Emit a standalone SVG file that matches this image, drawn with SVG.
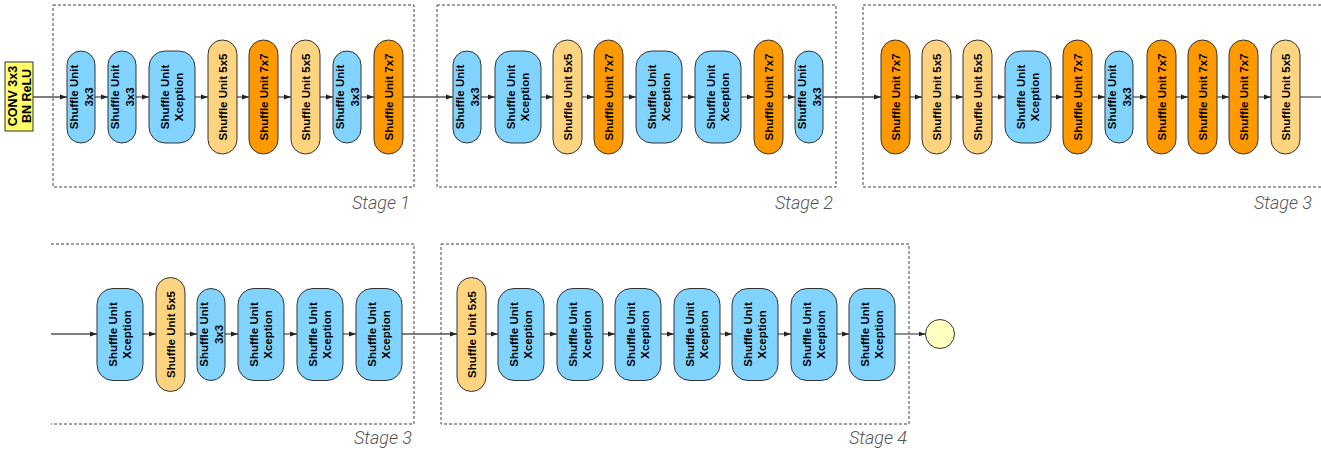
<svg xmlns="http://www.w3.org/2000/svg" width="1321" height="451" viewBox="0 0 1321 451">
<style>
.bg{fill:#fff}
.stage{fill:none;stroke:#444;stroke-width:1;stroke-dasharray:3,2}
.slabel{font-family:Roboto,"Liberation Sans",sans-serif;font-style:italic;font-weight:300;font-size:18px;fill:#555;text-anchor:end}
.b{fill:#80D4FF;stroke:#333;stroke-width:1}
.y{fill:#FFD480;stroke:#333;stroke-width:1}
.o{fill:#FF9900;stroke:#333;stroke-width:1}
.conv{fill:#FFFF66;stroke:#333;stroke-width:1}
.t{font-family:"Liberation Sans",Arial,sans-serif;font-weight:bold;font-size:11.5px;fill:#000;text-anchor:middle}
.tc{font-family:"Liberation Sans",Arial,sans-serif;font-weight:bold;font-size:12.5px;fill:#000;text-anchor:middle}
.e{stroke:#555;stroke-width:1.3;fill:none}
.ea{stroke:#555;stroke-width:1.3;fill:none;marker-end:url(#ah)}
.end{fill:#FFFFC0;stroke:#333;stroke-width:1}
</style>
<defs>
<marker id="ah" markerUnits="userSpaceOnUse" markerWidth="7" markerHeight="6" refX="7" refY="3" orient="auto">
<path d="M0,0.5 L7,3 L0,5.5 z" fill="#222"/>
</marker>
</defs>
<rect class="bg" x="0" y="0" width="1321" height="451"/>

<g id="stages">
<rect class="stage" x="53" y="5" width="361" height="182"/>
<text class="slabel" x="410" y="209">Stage 1</text>
<rect class="stage" x="437" y="5" width="399" height="182"/>
<text class="slabel" x="833" y="209">Stage 2</text>
<path class="stage" d="M1321,5 H863 V187 H1321"/>
<text class="slabel" x="1312" y="209">Stage 3</text>
<path class="stage" d="M51,244 H414 V424 H51"/>
<text class="slabel" x="412" y="444">Stage 3</text>
<rect class="stage" x="441" y="244" width="468" height="180"/>
<text class="slabel" x="907" y="444">Stage 4</text>
</g>

<g id="connectors">
<line class="ea" x1="33" y1="97" x2="67" y2="97"/>
<line class="ea" x1="95" y1="97" x2="108" y2="97"/>
<line class="ea" x1="136" y1="97" x2="149" y2="97"/>
<line class="ea" x1="195" y1="97" x2="208" y2="97"/>
<line class="ea" x1="237" y1="97" x2="249" y2="97"/>
<line class="ea" x1="278" y1="97" x2="291" y2="97"/>
<line class="ea" x1="320" y1="97" x2="333" y2="97"/>
<line class="ea" x1="361" y1="97" x2="374" y2="97"/>
<line class="ea" x1="403" y1="97" x2="453" y2="97"/>
<line class="ea" x1="481" y1="97" x2="495" y2="97"/>
<line class="ea" x1="541" y1="97" x2="553" y2="97"/>
<line class="ea" x1="582" y1="97" x2="594" y2="97"/>
<line class="ea" x1="623" y1="97" x2="636" y2="97"/>
<line class="ea" x1="682" y1="97" x2="695" y2="97"/>
<line class="ea" x1="741" y1="97" x2="754" y2="97"/>
<line class="ea" x1="783" y1="97" x2="795" y2="97"/>
<line class="ea" x1="823" y1="97" x2="881" y2="97"/>
<line class="ea" x1="910" y1="97" x2="922" y2="97"/>
<line class="ea" x1="951" y1="97" x2="963" y2="97"/>
<line class="ea" x1="992" y1="97" x2="1005" y2="97"/>
<line class="ea" x1="1051" y1="97" x2="1063" y2="97"/>
<line class="ea" x1="1092" y1="97" x2="1105" y2="97"/>
<line class="ea" x1="1133" y1="97" x2="1147" y2="97"/>
<line class="ea" x1="1176" y1="97" x2="1188" y2="97"/>
<line class="ea" x1="1217" y1="97" x2="1229" y2="97"/>
<line class="ea" x1="1258" y1="97" x2="1271" y2="97"/>
<line class="e" x1="1300" y1="97" x2="1321" y2="97"/>

<line class="ea" x1="51" y1="334" x2="97" y2="334"/>
<line class="ea" x1="143" y1="334" x2="156" y2="334"/>
<line class="ea" x1="185" y1="334" x2="197" y2="334"/>
<line class="ea" x1="225" y1="334" x2="238" y2="334"/>
<line class="ea" x1="284" y1="334" x2="297" y2="334"/>
<line class="ea" x1="343" y1="334" x2="356" y2="334"/>
<line class="ea" x1="402" y1="334" x2="457" y2="334"/>
<line class="ea" x1="486" y1="334" x2="498" y2="334"/>
<line class="ea" x1="544" y1="334" x2="557" y2="334"/>
<line class="ea" x1="603" y1="334" x2="615" y2="334"/>
<line class="ea" x1="661" y1="334" x2="674" y2="334"/>
<line class="ea" x1="720" y1="334" x2="732" y2="334"/>
<line class="ea" x1="778" y1="334" x2="791" y2="334"/>
<line class="ea" x1="837" y1="334" x2="849" y2="334"/>
<line class="ea" x1="895" y1="334" x2="925.5" y2="334"/>
</g>

<g id="conv"><rect class="conv" x="5" y="62" width="28" height="69"/>
<text class="tc" transform="translate(17,96) rotate(-90)">CONV 3x3</text>
<text class="tc" transform="translate(31,96) rotate(-90)">BN ReLU</text></g>

<g id="s1n1"><rect class="b" x="67" y="51" width="28" height="92" rx="14"/><text class="t" transform="translate(78,97) rotate(-90)">Shuffle Unit</text><text class="t" transform="translate(92.5,97) rotate(-90)">3x3</text></g>
<g id="s1n2"><rect class="b" x="108" y="51" width="28" height="92" rx="14"/><text class="t" transform="translate(119,97) rotate(-90)">Shuffle Unit</text><text class="t" transform="translate(133.5,97) rotate(-90)">3x3</text></g>
<g id="s1n3"><rect class="b" x="149" y="51" width="46" height="92" rx="16" ry="16"/><text class="t" transform="translate(169,97) rotate(-90)">Shuffle Unit</text><text class="t" transform="translate(182.5,97) rotate(-90)">Xception</text></g>
<g id="s1n4"><rect class="y" x="208" y="40" width="29" height="114" rx="14.5"/><text class="t" transform="translate(226.5,97) rotate(-90)">Shuffle Unit 5x5</text></g>
<g id="s1n5"><rect class="o" x="249" y="40" width="29" height="114" rx="14.5"/><text class="t" transform="translate(267.5,97) rotate(-90)">Shuffle Unit 7x7</text></g>
<g id="s1n6"><rect class="y" x="291" y="40" width="29" height="114" rx="14.5"/><text class="t" transform="translate(309.5,97) rotate(-90)">Shuffle Unit 5x5</text></g>
<g id="s1n7"><rect class="b" x="333" y="51" width="28" height="92" rx="14"/><text class="t" transform="translate(344,97) rotate(-90)">Shuffle Unit</text><text class="t" transform="translate(358.5,97) rotate(-90)">3x3</text></g>
<g id="s1n8"><rect class="o" x="374" y="40" width="29" height="114" rx="14.5"/><text class="t" transform="translate(392.5,97) rotate(-90)">Shuffle Unit 7x7</text></g>

<g id="s2n1"><rect class="b" x="453" y="51" width="28" height="92" rx="14"/><text class="t" transform="translate(464,97) rotate(-90)">Shuffle Unit</text><text class="t" transform="translate(478.5,97) rotate(-90)">3x3</text></g>
<g id="s2n2"><rect class="b" x="495" y="51" width="46" height="92" rx="16" ry="16"/><text class="t" transform="translate(515,97) rotate(-90)">Shuffle Unit</text><text class="t" transform="translate(528.5,97) rotate(-90)">Xception</text></g>
<g id="s2n3"><rect class="y" x="553" y="40" width="29" height="114" rx="14.5"/><text class="t" transform="translate(571.5,97) rotate(-90)">Shuffle Unit 5x5</text></g>
<g id="s2n4"><rect class="o" x="594" y="40" width="29" height="114" rx="14.5"/><text class="t" transform="translate(612.5,97) rotate(-90)">Shuffle Unit 7x7</text></g>
<g id="s2n5"><rect class="b" x="636" y="51" width="46" height="92" rx="16" ry="16"/><text class="t" transform="translate(656,97) rotate(-90)">Shuffle Unit</text><text class="t" transform="translate(669.5,97) rotate(-90)">Xception</text></g>
<g id="s2n6"><rect class="b" x="695" y="51" width="46" height="92" rx="16" ry="16"/><text class="t" transform="translate(715,97) rotate(-90)">Shuffle Unit</text><text class="t" transform="translate(728.5,97) rotate(-90)">Xception</text></g>
<g id="s2n7"><rect class="o" x="754" y="40" width="29" height="114" rx="14.5"/><text class="t" transform="translate(772.5,97) rotate(-90)">Shuffle Unit 7x7</text></g>
<g id="s2n8"><rect class="b" x="795" y="51" width="28" height="92" rx="14"/><text class="t" transform="translate(806,97) rotate(-90)">Shuffle Unit</text><text class="t" transform="translate(820.5,97) rotate(-90)">3x3</text></g>

<g id="s3n1"><rect class="o" x="881" y="40" width="29" height="114" rx="14.5"/><text class="t" transform="translate(899.5,97) rotate(-90)">Shuffle Unit 7x7</text></g>
<g id="s3n2"><rect class="y" x="922" y="40" width="29" height="114" rx="14.5"/><text class="t" transform="translate(940.5,97) rotate(-90)">Shuffle Unit 5x5</text></g>
<g id="s3n3"><rect class="y" x="963" y="40" width="29" height="114" rx="14.5"/><text class="t" transform="translate(981.5,97) rotate(-90)">Shuffle Unit 5x5</text></g>
<g id="s3n4"><rect class="b" x="1005" y="51" width="46" height="92" rx="16" ry="16"/><text class="t" transform="translate(1025,97) rotate(-90)">Shuffle Unit</text><text class="t" transform="translate(1038.5,97) rotate(-90)">Xception</text></g>
<g id="s3n5"><rect class="o" x="1063" y="40" width="29" height="114" rx="14.5"/><text class="t" transform="translate(1081.5,97) rotate(-90)">Shuffle Unit 7x7</text></g>
<g id="s3n6"><rect class="b" x="1105" y="51" width="28" height="92" rx="14"/><text class="t" transform="translate(1116,97) rotate(-90)">Shuffle Unit</text><text class="t" transform="translate(1130.5,97) rotate(-90)">3x3</text></g>
<g id="s3n7"><rect class="o" x="1147" y="40" width="29" height="114" rx="14.5"/><text class="t" transform="translate(1165.5,97) rotate(-90)">Shuffle Unit 7x7</text></g>
<g id="s3n8"><rect class="o" x="1188" y="40" width="29" height="114" rx="14.5"/><text class="t" transform="translate(1206.5,97) rotate(-90)">Shuffle Unit 7x7</text></g>
<g id="s3n9"><rect class="o" x="1229" y="40" width="29" height="114" rx="14.5"/><text class="t" transform="translate(1247.5,97) rotate(-90)">Shuffle Unit 7x7</text></g>
<g id="s3n10"><rect class="y" x="1271" y="40" width="29" height="114" rx="14.5"/><text class="t" transform="translate(1289.5,97) rotate(-90)">Shuffle Unit 5x5</text></g>

<g id="r2n1"><rect class="b" x="97" y="288.5" width="46" height="92" rx="16" ry="16"/><text class="t" transform="translate(117,334.5) rotate(-90)">Shuffle Unit</text><text class="t" transform="translate(130.5,334.5) rotate(-90)">Xception</text></g>
<g id="r2n2"><rect class="y" x="156" y="277.5" width="29" height="114" rx="14.5"/><text class="t" transform="translate(174.5,334.5) rotate(-90)">Shuffle Unit 5x5</text></g>
<g id="r2n3"><rect class="b" x="197" y="288.5" width="28" height="92" rx="14"/><text class="t" transform="translate(208,334.5) rotate(-90)">Shuffle Unit</text><text class="t" transform="translate(222.5,334.5) rotate(-90)">3x3</text></g>
<g id="r2n4"><rect class="b" x="238" y="288.5" width="46" height="92" rx="16" ry="16"/><text class="t" transform="translate(258,334.5) rotate(-90)">Shuffle Unit</text><text class="t" transform="translate(271.5,334.5) rotate(-90)">Xception</text></g>
<g id="r2n5"><rect class="b" x="297" y="288.5" width="46" height="92" rx="16" ry="16"/><text class="t" transform="translate(317,334.5) rotate(-90)">Shuffle Unit</text><text class="t" transform="translate(330.5,334.5) rotate(-90)">Xception</text></g>
<g id="r2n6"><rect class="b" x="356" y="288.5" width="46" height="92" rx="16" ry="16"/><text class="t" transform="translate(376,334.5) rotate(-90)">Shuffle Unit</text><text class="t" transform="translate(389.5,334.5) rotate(-90)">Xception</text></g>

<g id="s4n1"><rect class="y" x="457" y="277.5" width="29" height="114" rx="14.5"/><text class="t" transform="translate(475.5,334.5) rotate(-90)">Shuffle Unit 5x5</text></g>
<g id="s4n2"><rect class="b" x="498" y="288.5" width="46" height="92" rx="16" ry="16"/><text class="t" transform="translate(518,334.5) rotate(-90)">Shuffle Unit</text><text class="t" transform="translate(531.5,334.5) rotate(-90)">Xception</text></g>
<g id="s4n3"><rect class="b" x="557" y="288.5" width="46" height="92" rx="16" ry="16"/><text class="t" transform="translate(577,334.5) rotate(-90)">Shuffle Unit</text><text class="t" transform="translate(590.5,334.5) rotate(-90)">Xception</text></g>
<g id="s4n4"><rect class="b" x="615" y="288.5" width="46" height="92" rx="16" ry="16"/><text class="t" transform="translate(635,334.5) rotate(-90)">Shuffle Unit</text><text class="t" transform="translate(648.5,334.5) rotate(-90)">Xception</text></g>
<g id="s4n5"><rect class="b" x="674" y="288.5" width="46" height="92" rx="16" ry="16"/><text class="t" transform="translate(694,334.5) rotate(-90)">Shuffle Unit</text><text class="t" transform="translate(707.5,334.5) rotate(-90)">Xception</text></g>
<g id="s4n6"><rect class="b" x="732" y="288.5" width="46" height="92" rx="16" ry="16"/><text class="t" transform="translate(752,334.5) rotate(-90)">Shuffle Unit</text><text class="t" transform="translate(765.5,334.5) rotate(-90)">Xception</text></g>
<g id="s4n7"><rect class="b" x="791" y="288.5" width="46" height="92" rx="16" ry="16"/><text class="t" transform="translate(811,334.5) rotate(-90)">Shuffle Unit</text><text class="t" transform="translate(824.5,334.5) rotate(-90)">Xception</text></g>
<g id="s4n8"><rect class="b" x="849" y="288.5" width="46" height="92" rx="16" ry="16"/><text class="t" transform="translate(869,334.5) rotate(-90)">Shuffle Unit</text><text class="t" transform="translate(882.5,334.5) rotate(-90)">Xception</text></g>

<g id="output"><circle class="end" cx="940" cy="334" r="14.5"/></g>
</svg>
